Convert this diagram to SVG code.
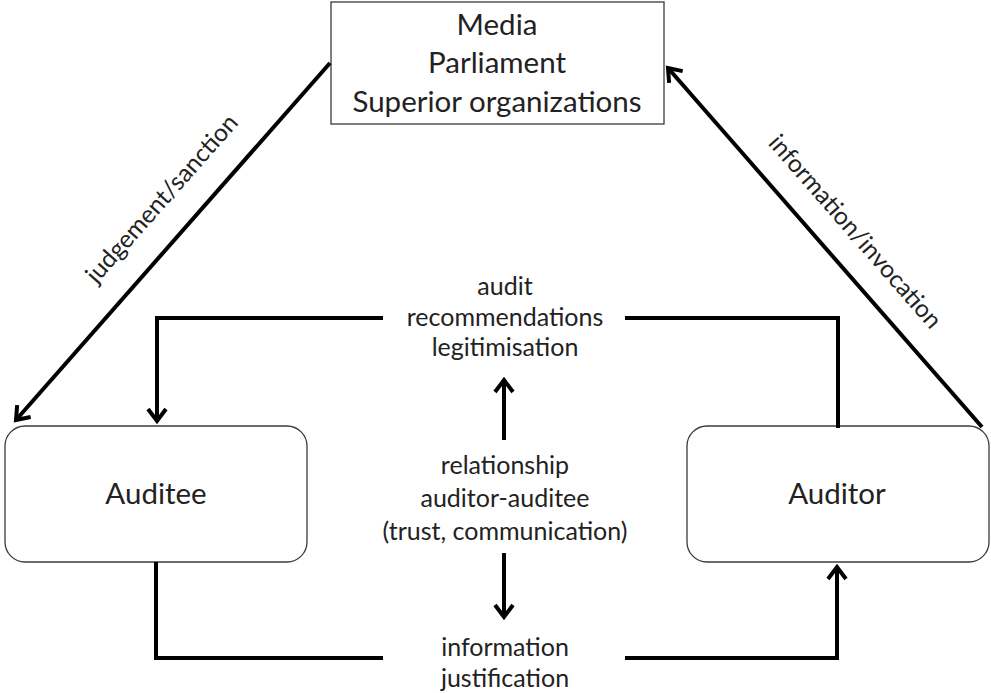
<svg xmlns="http://www.w3.org/2000/svg" width="991" height="693" viewBox="0 0 991 693">
  <defs>
    <style>
      .box { fill: #ffffff; stroke: #3a3a3a; stroke-width: 1.3; }
      .lbl { font-family: Lato, "Open Sans", "Liberation Sans", sans-serif; fill: #222222; text-anchor: middle; }
      .big { font-size: 29.5px; }
      .mid { font-size: 25px; }
      .diag { font-size: 24.5px; }
      .wire { fill: none; stroke: #000000; stroke-width: 4; stroke-linejoin: miter; }
    </style>
    <marker id="arrow" markerUnits="userSpaceOnUse" viewBox="-18 -12 22 24" refX="0" refY="0" markerWidth="22" markerHeight="24" orient="auto">
      <path d="M -12 -9 L 0 0 L -12 9" fill="none" stroke="#000000" stroke-width="4" stroke-linejoin="miter"/>
    </marker>
  </defs>

  <!-- oversight bodies -->
  <g id="oversight">
    <rect class="box" x="331" y="2" width="333" height="122"/>
    <text class="lbl big" x="497" y="35">Media</text>
    <text class="lbl big" x="497" y="73">Parliament</text>
    <text class="lbl big" x="497" y="112">Superior organizations</text>
  </g>

  <!-- auditee -->
  <g id="auditee">
    <rect class="box" x="5" y="426" width="302" height="136" rx="20" ry="20"/>
    <text class="lbl big" x="156" y="504">Auditee</text>
  </g>

  <!-- auditor -->
  <g id="auditor">
    <rect class="box" x="687" y="426" width="302" height="136" rx="20" ry="20"/>
    <text class="lbl big" x="837" y="504">Auditor</text>
  </g>

  <!-- labels in the middle column -->
  <g id="outcomes">
    <text class="lbl mid" x="505" y="295">audit</text>
    <text class="lbl mid" x="505" y="326">recommendations</text>
    <text class="lbl mid" x="505" y="356">legitimisation</text>
  </g>
  <g id="relationship">
    <text class="lbl mid" x="505" y="474">relationship</text>
    <text class="lbl mid" x="505" y="507">auditor-auditee</text>
    <text class="lbl mid" x="505" y="540">(trust, communication)</text>
  </g>
  <g id="inputs">
    <text class="lbl mid" x="505" y="656">information</text>
    <text class="lbl mid" x="505" y="687">justification</text>
  </g>

  <!-- connectors -->
  <g id="connectors">
    <path class="wire" d="M 330 63 L 16 420" marker-end="url(#arrow)"/>
    <path class="wire" d="M 982 427 L 668 68" marker-end="url(#arrow)"/>
    <path class="wire" d="M 383 318 H 157 V 421" marker-end="url(#arrow)"/>
    <path class="wire" d="M 625 318 H 838 V 428"/>
    <path class="wire" d="M 156 562 V 658 H 383"/>
    <path class="wire" d="M 625 658 H 837 V 567" marker-end="url(#arrow)"/>
    <path class="wire" d="M 504 440 V 380" marker-end="url(#arrow)"/>
    <path class="wire" d="M 504 553 V 617" marker-end="url(#arrow)"/>
    <text class="lbl diag" transform="translate(168 204) rotate(-48.4)">judgement/sanction</text>
    <text class="lbl diag" transform="translate(849 237) rotate(48.8)">information/invocation</text>
  </g>
</svg>
